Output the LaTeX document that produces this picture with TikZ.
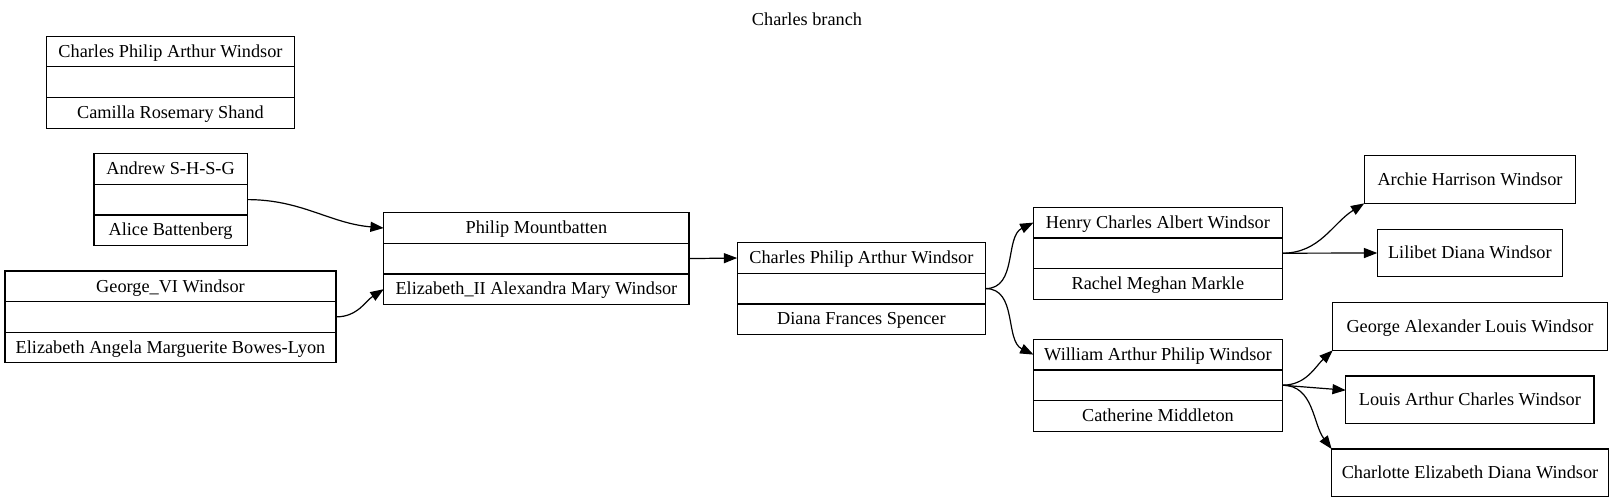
\documentclass[tikz,border=0pt]{standalone}
\usepackage{fontspec}
\setmainfont{Liberation Serif}
\usetikzlibrary{arrows.meta}
\begin{document}
\begin{tikzpicture}[x=0.75pt,y=0.75pt,
  every node/.style={font=\fontsize{13.7}{16}\selectfont, text height=10.5pt, text depth=1.9pt, inner sep=0pt, outer sep=0pt},
  row/.style={draw, line width=0.9pt, minimum height=22.95pt},
  leaf/.style={draw, line width=0.9pt, minimum height=35.8pt},
  edge/.style={line width=0.9pt, -{Triangle[length=10pt,width=7.5pt]}}
]
\fill[white] (0,0) rectangle (1615,-503);
\useasboundingbox (0,0) rectangle (1615,-503);

\node (title) at (807,-20) {Charles branch};

% Camilla record
\node[row, minimum width=186.3pt] (cam1) at (170.5,-51.6) {Charles Philip Arthur Windsor};
\node[row, minimum width=186.3pt] (cam2) at (170.5,-82.2) {};
\node[row, minimum width=186.3pt] (cam3) at (170.5,-112.8) {Camilla Rosemary Shand};

% Andrew record
\node[row, minimum width=115pt] (and1) at (170.6,-169.0) {Andrew S-H-S-G};
\node[row, minimum width=115pt] (and2) at (170.6,-199.6) {};
\node[row, minimum width=115pt] (and3) at (170.6,-230.2) {Alice Battenberg};

% George VI record
\node[row, minimum width=248.25pt] (geo1) at (170.5,-286.3) {George\_VI Windsor};
\node[row, minimum width=248.25pt] (geo2) at (170.5,-316.9) {};
\node[row, minimum width=248.25pt] (geo3) at (170.5,-347.5) {Elizabeth Angela Marguerite Bowes-Lyon};

% Philip record
\node[row, minimum width=229pt] (phi1) at (536.4,-228.0) {Philip Mountbatten};
\node[row, minimum width=229pt] (phi2) at (536.4,-258.6) {};
\node[row, minimum width=229pt] (phi3) at (536.4,-289.2) {Elizabeth\_II Alexandra Mary Windsor};

% Charles record
\node[row, minimum width=186.3pt] (cha1) at (861.4,-258.0) {Charles Philip Arthur Windsor};
\node[row, minimum width=186.3pt] (cha2) at (861.4,-288.6) {};
\node[row, minimum width=186.3pt] (cha3) at (861.4,-319.2) {Diana Frances Spencer};

% Henry record
\node[row, minimum width=186.6pt] (hen1) at (1157.9,-222.6) {Henry Charles Albert Windsor};
\node[row, minimum width=186.6pt] (hen2) at (1157.9,-253.2) {};
\node[row, minimum width=186.6pt] (hen3) at (1157.9,-283.8) {Rachel Meghan Markle};

% William record
\node[row, minimum width=186.6pt] (wil1) at (1157.9,-354.6) {William Arthur Philip Windsor};
\node[row, minimum width=186.6pt] (wil2) at (1157.9,-385.2) {};
\node[row, minimum width=186.6pt] (wil3) at (1157.9,-415.8) {Catherine Middleton};

% Leaves
\node[leaf, minimum width=158.6pt] (archie) at (1470,-179.5) {Archie Harrison Windsor};
\node[leaf, minimum width=138.75pt] (lilibet) at (1469.8,-253) {Lilibet Diana Windsor};
\node[leaf, minimum width=206pt] (georgea) at (1470,-326.5) {George Alexander Louis Windsor};
\node[leaf, minimum width=186.2pt] (louis) at (1469.9,-399.9) {Louis Arthur Charles Windsor};
\node[leaf, minimum width=207.5pt] (charlotte) at (1470,-472.9) {Charlotte Elizabeth Diana Windsor};

% Edges
\draw[edge] (and2.east) to[out=0,in=175] (phi1.west);
\draw[edge] (geo2.east) to[out=0,in=213] (phi3.west);
\draw[edge] (phi2.east) -- (cha1.west);
\draw[edge] (cha2.east) to[out=0,in=206] (hen1.west);
\draw[edge] (cha2.east) to[out=0,in=154] (wil1.west);
\draw[edge] (hen2.east) to[out=0,in=212] (archie.south west);
\draw[edge] (hen2.east) -- (lilibet.west);
\draw[edge] (wil2.east) to[out=0,in=223] (georgea.south west);
\draw[edge] (wil2.east) -- (louis);
\draw[edge] (wil2.east) to[out=0,in=127] (charlotte.north west);
\end{tikzpicture}
\end{document}
